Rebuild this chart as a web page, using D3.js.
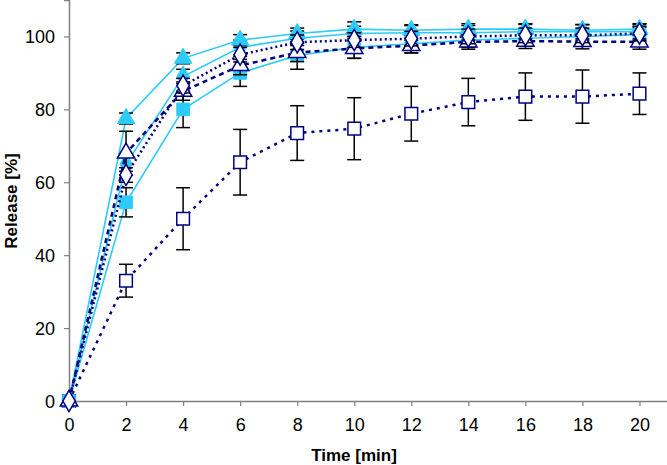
<!DOCTYPE html>
<html><head><meta charset="utf-8">
<script src="https://cdn.jsdelivr.net/npm/d3@7"></script>
<style>body{margin:0;background:#fff;} svg{display:block;}</style>
</head><body>
<svg id="c" width="667" height="465"></svg>
<script>
const times = [0,2,4,6,8,10,12,14,16,18,20];
const xTicks = [0,2,4,6,8,10,12,14,16,18,20];
const yTicks = [0,20,40,60,80,100];

const cyanTriangle = [0,77.5,94,99,100.8,102,101.7,102,102,101.7,102];
const cyanTriangleSd = [0,1.5,1.5,1.5,1.5,2,1.5,1.5,1.5,1.5,1.5];
const cyanDiamond = [0,65,89,97,99.5,100.8,101,101,101.3,101.3,101.3];
const cyanDiamondSd = [0,2,2,2,2,2,2,2,2,2,2];
const cyanSquare = [0,54.5,80,90,94.8,97,98,99,99.5,100,100.5];
const cyanSquareSd = [0,4,5,3.7,3.8,3,2.5,2,2,2,2];
const navyTriangle = [0,68,85,92,95.6,96.7,97.5,98.5,98.7,98.6,98.5];
const navyTriangleSd = [0,6,2.5,2.5,2.5,2.7,2,2,2,2,2];
const navyDiamond = [0,62,86.5,95,98.4,99,99.4,100,100.3,100.3,100.8];
const navyDiamondSd = [0,2,2,2,2,2,2,2,2,2,2];
const navySquare = [0,33,50,65.5,73.5,74.7,78.8,82,83.5,83.5,84.3];
const navySquareSd = [0,4.5,8.5,9,7.5,8.5,7.5,6.5,6.5,7.3,5.7];

const CYAN = "#2ccbf8", NAVY = "#000080";
const series = [
  {v: navySquare, sd: navySquareSd, shape: "square", color: NAVY, open: true, dash: "3,5"},
  {v: cyanSquare, sd: cyanSquareSd, shape: "square", color: CYAN, open: false, dash: null},
  {v: cyanDiamond, sd: cyanDiamondSd, shape: "diamond", color: CYAN, open: false, dash: null},
  {v: cyanTriangle, sd: cyanTriangleSd, shape: "triangle", color: CYAN, open: false, dash: null},
  {v: navyTriangle, sd: navyTriangleSd, shape: "triangle", color: NAVY, open: true, dash: "5,4"},
  {v: navyDiamond, sd: navyDiamondSd, shape: "diamond", color: NAVY, open: true, dash: "2,3"},
];

const svg = d3.select("#c");
const x = d3.scaleLinear().domain([0,21]).range([69,668]);
const y = d3.scaleLinear().domain([0,110]).range([401,0]);
const AX = "#808080";
const font = "'Liberation Sans', Arial, sans-serif";

// axes
const gx = svg.append("g").attr("transform","translate(0,401)")
  .call(d3.axisBottom(x).tickValues(xTicks).tickSize(5).tickPadding(12).tickFormat(d3.format("d")));
const gy = svg.append("g").attr("transform","translate(69,0)")
  .call(d3.axisLeft(y).tickValues(yTicks).tickSize(5).tickPadding(9).tickFormat(d3.format("d")));
[gx,gy].forEach(g=>{
  g.select(".domain").attr("stroke",AX).attr("stroke-width",1.5);
  g.selectAll(".tick line").attr("stroke",AX).attr("stroke-width",1.2);
  g.selectAll(".tick text").attr("fill","#000").style("font-family",font).style("font-size","18px");
});
gy.selectAll(".tick text").attr("dy","0.35em");

svg.append("text").attr("x",354).attr("y",461).attr("text-anchor","middle")
  .style("font-family",font).style("font-size","17px").style("font-weight","bold").text("Time [min]");
svg.append("text").attr("transform","translate(17,201) rotate(-90)").attr("text-anchor","middle")
  .style("font-family",font).style("font-size","17px").style("font-weight","bold").text("Release [%]");

const line = d3.line().x((d,i)=>x(times[i])).y(d=>y(d));
const sym = {square: d3.symbolSquare, diamond: d3.symbolDiamond, triangle: d3.symbolTriangle};
const size = {square: 160, diamond: 130, triangle: 130};

series.forEach(s=>{
  const g = svg.append("g");
  g.append("path").datum(s.v).attr("d",line).attr("fill","none")
    .attr("stroke",s.color).attr("stroke-width", s.open?2.5:1.6)
    .attr("stroke-dasharray", s.dash);
  // error bars
  const eb = g.append("g").attr("stroke","#000").attr("stroke-width",1.5);
  s.v.forEach((v,i)=>{
    if(!s.sd[i]) return;
    const cx = x(times[i]);
    eb.append("line").attr("x1",cx).attr("x2",cx).attr("y1",y(v+s.sd[i])).attr("y2",y(v-s.sd[i]));
    [v+s.sd[i], v-s.sd[i]].forEach(e=>eb.append("line").attr("x1",cx-7).attr("x2",cx+7).attr("y1",y(e)).attr("y2",y(e)));
  });
  g.selectAll("path.m").data(s.v).join("path").attr("class","m")
    .attr("transform",(d,i)=>`translate(${x(times[i])},${y(d)})`)
    .attr("d", d3.symbol().type(sym[s.shape]).size(size[s.shape]))
    .attr("fill", s.open?"#fff":s.color)
    .attr("stroke", s.color).attr("stroke-width", s.open?1.5:1);
});
</script>
</body></html>
